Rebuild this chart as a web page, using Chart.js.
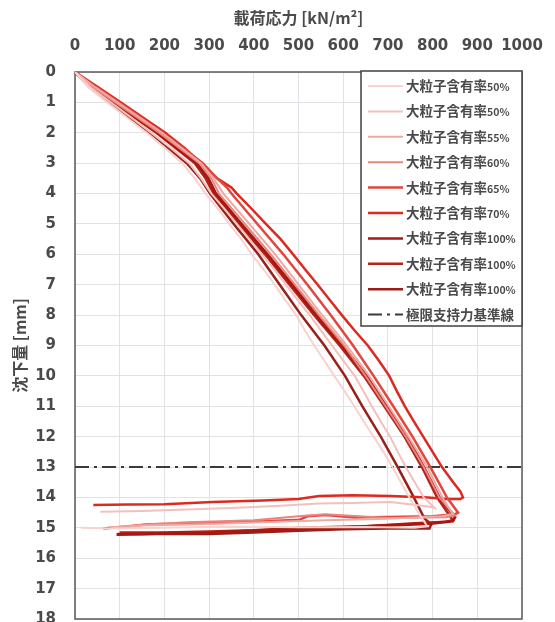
<!DOCTYPE html>
<html>
<head>
<meta charset="utf-8">
<script src="https://cdn.jsdelivr.net/npm/chart.js@4.4.1/dist/chart.umd.min.js"></script>
<style>
  html, body { margin: 0; padding: 0; background: #fff; overflow: hidden; }
  canvas { display: block; }
</style>
</head>
<body>
<canvas id="plateChart" width="555" height="647"></canvas>
<script>
// plate loading tests: load [kN/m2] vs settlement [mm]
const seriesLabels = ["大粒子含有率50%", "大粒子含有率50%", "大粒子含有率55%", "大粒子含有率60%",
  "大粒子含有率65%", "大粒子含有率70%", "大粒子含有率100%", "大粒子含有率100%", "大粒子含有率100%"];
const seriesColors = ["#f8d2ce", "#f4c0bb", "#efa9a3", "#e8857e", "#e2463d", "#dc2a20", "#a81810", "#b5221a", "#9a1f19"];

const load50a = [0,30,72,116,160,201,240,268,292,320,345,372,395,422,447,470,495,514,535,558,580,603,625,646,668,690,710,729,748,768,788, 760,650,500,350,200,80,13];
const settle50a = [0,0.5,1,1.5,2,2.5,3,3.5,4,4.5,5,5.5,6,6.5,7,7.5,8,8.5,9,9.5,10,10.5,11,11.5,12,12.5,13,13.5,14,14.5,14.95, 15.0,14.97,14.98,14.96,15.0,15.02,15.0];

const load50b = [0,35,80,126,170,214,255,282,305,334,362,390,418,446,472,498,525,550,575,600,626,645,664,684,705,722,740,760,780,805, 790,706,620,546,450,350,250,150,57];
const settle50b = [0,0.5,1,1.5,2,2.5,3,3.5,4,4.5,5,5.5,6,6.5,7,7.5,8,8.5,9,9.5,10,10.5,11,11.5,12,12.5,13,13.5,14,14.35, 14.3,14.15,14.18,14.2,14.28,14.35,14.4,14.45,14.47];

const load55 = [0,45,95,195,282,310,332,390,448,500,553,608,658,702,746,788,822,845, 820,700,560,420,280,150,80];
const settle55 = [0,0.5,1,2,3,3.5,4,5,6,7,8,9,10,11,12,13,14,14.55, 14.62,14.7,14.75,14.82,14.88,14.92,14.98];

const load60 = [0,42,90,188,278,305,322,380,438,492,546,602,650,695,740,780,815,850, 830,700,560,500,400,250,150,100];
const settle60 = [0,0.5,1,2,3,3.5,4,5,6,7,8,9,10,11,12,13,14,14.6, 14.65,14.68,14.55,14.62,14.75,14.82,14.9,15.0];

const load65 = [0,48,98,196,286,318,340,350,408,466,520,572,622,668,712,755,795,832,857, 850,800,700,626,560,520,503,400,300,165,120,63];
const settle65 = [0,0.5,1,2,3,3.5,3.8,4,5,6,7,8,9,10,11,12,13,14,14.5, 14.55,14.62,14.64,14.66,14.58,14.62,14.73,14.8,14.85,14.88,14.95,15.02];

const load70 = [0,52,102,152,202,245,282,318,350,362,395,427,460,488,515,543,570,597,625,655,680,703,720,738,758,779,800,821,846,862,868, 862,830,790,706,620,546,500,420,308,200,120,41];
const settle70 = [0,0.5,1,1.5,2,2.5,3,3.5,3.8,4,4.5,5,5.5,6,6.5,7,7.5,8,8.5,9,9.5,10,10.5,11,11.5,12,12.5,13,13.5,13.8,14.0, 14.05,14.05,14.0,13.95,13.93,13.95,14.05,14.1,14.15,14.22,14.23,14.25];

const load100a = [0,40,88,185,272,298,315,372,430,486,540,598,652,697,742,780,815,842,850, 845,795,700,626,503,400,308,200,150,93];
const settle100a = [0,0.5,1,2,3,3.5,4,5,6,7,8,9,10,11,12,13,14,14.5,14.65, 14.78,14.86,14.92,14.97,15.05,15.1,15.16,15.18,15.2,15.22];

const load100b = [0,38,85,182,268,292,310,366,425,480,535,592,646,692,737,776,810,845, 830,760,650,500,400,300,200,100];
const settle100b = [0,0.5,1,2,3,3.5,4,5,6,7,8,9,10,11,12,13,14,14.75, 14.8,14.85,14.95,15.0,15.08,15.12,15.15,15.15];

const load100c = [0,32,76,168,250,280,302,355,410,458,506,558,604,643,684,722,758,782,797, 793,700,600,500,400,300,200,95];
const settle100c = [0,0.5,1,2,3,3.5,4,5,6,7,8,9,10,11,12,13,14,14.7,14.88, 15.02,15.02,15.05,15.1,15.15,15.2,15.2,15.2];

const limitLabel = "極限支持力基準線";
const limitLoad = [0, 1000];
const limitSettle = [13, 13];

const loads = [load50a, load50b, load55, load60, load65, load70, load100a, load100b, load100c];
const settles = [settle50a, settle50b, settle55, settle60, settle65, settle70, settle100a, settle100b, settle100c];
const widths = [2, 2, 2, 2, 2.5, 2.5, 3, 2.5, 2.5];

const toPoints = (xs, ys) => xs.map((x, i) => ({ x: x, y: ys[i] }));

const datasets = seriesLabels.map((label, i) => ({
  label: label,
  data: toPoints(loads[i], settles[i]),
  borderColor: seriesColors[i],
  borderWidth: widths[i],
  showLine: true,
  pointRadius: 0,
  tension: 0
}));
datasets.push({
  label: limitLabel,
  data: toPoints(limitLoad, limitSettle),
  borderColor: "#3a3a3a",
  borderWidth: 2,
  borderDash: [14, 5, 3, 5],
  showLine: true,
  pointRadius: 0
});

const textColor = "#4a4a4a";
const tickFont = { family: "'DejaVu Sans', sans-serif", size: 15, weight: "bold" };
const titleFont = { family: "'Noto Sans CJK JP', sans-serif", size: 16, weight: "bold" };

// frame round the plot area
const frame = {
  id: 'frame',
  beforeDatasetsDraw(chart) {
    const {ctx, chartArea: a} = chart;
    ctx.save();
    ctx.strokeStyle = '#5a5a5a';
    ctx.lineWidth = 1.5;
    ctx.strokeRect(a.left, a.top, a.width, a.height);
    ctx.restore();
  }
};

// legend box drawn inside the plot, top right
const legendBox = {
  id: 'legendBox',
  afterDraw(chart) {
    const {ctx, chartArea: a} = chart;
    const w = 161, h = 255;
    const x = a.right - w, y = a.top - 1;
    ctx.save();
    ctx.fillStyle = '#fff';
    ctx.fillRect(x, y, w, h);
    ctx.strokeStyle = '#404040';
    ctx.lineWidth = 1.5;
    ctx.strokeRect(x, y, w, h);
    chart.data.datasets.forEach((ds, i) => {
      const ly = y + 15 + i * 25.4;
      ctx.strokeStyle = ds.borderColor;
      ctx.lineWidth = Math.min(ds.borderWidth, 2.5);
      ctx.setLineDash(ds.borderDash || []);
      ctx.beginPath();
      ctx.moveTo(x + 7, ly);
      ctx.lineTo(x + 42, ly);
      ctx.stroke();
      ctx.setLineDash([]);
      const m = ds.label.match(/^(.*?)(\d+%)?$/);
      ctx.fillStyle = textColor;
      ctx.textBaseline = 'alphabetic';
      ctx.font = "bold 13.5px 'Noto Sans CJK JP'";
      ctx.fillText(m[1], x + 45, ly + 5);
      if (m[2]) {
        const tw = ctx.measureText(m[1]).width;
        ctx.font = "bold 10.5px 'Noto Sans CJK JP'";
        ctx.fillText(m[2], x + 45 + tw, ly + 5);
      }
    });
    ctx.restore();
  }
};

new Chart(document.getElementById("plateChart"), {
  type: "scatter",
  data: { datasets: datasets },
  options: {
    responsive: false,
    animation: false,
    layout: { padding: { right: 33, bottom: 0 } },
    plugins: { legend: { display: false }, tooltip: { enabled: false } },
    scales: {
      x: {
        type: "linear",
        position: "top",
        min: 0,
        max: 1000,
        ticks: { stepSize: 100, padding: 17, color: textColor, font: tickFont,
                 autoSkip: false, minRotation: 0, maxRotation: 0, callback: v => String(v) },
        grid: { color: "#dfe3e8", drawTicks: false },
        border: { display: false },
        title: { display: true, text: "載荷応力 [kN/m²]", color: textColor, font: titleFont, padding: { top: 8, bottom: 0 } },
        afterFit(scale) { scale.height = 72; scale.paddingLeft = 0; scale.paddingRight = 0; }
      },
      y: {
        type: "linear",
        reverse: true,
        min: 0,
        max: 18,
        ticks: { stepSize: 1, padding: 19, color: textColor, font: tickFont },
        grid: { color: "#dfe3e8", drawTicks: false },
        border: { display: false },
        title: { display: true, text: "沈下量 [mm]", color: textColor, font: titleFont, padding: { top: 10, bottom: 0 } },
        afterFit(scale) { scale.width = 75; }
      }
    }
  },
  plugins: [frame, legendBox]
});
</script>
</body>
</html>
